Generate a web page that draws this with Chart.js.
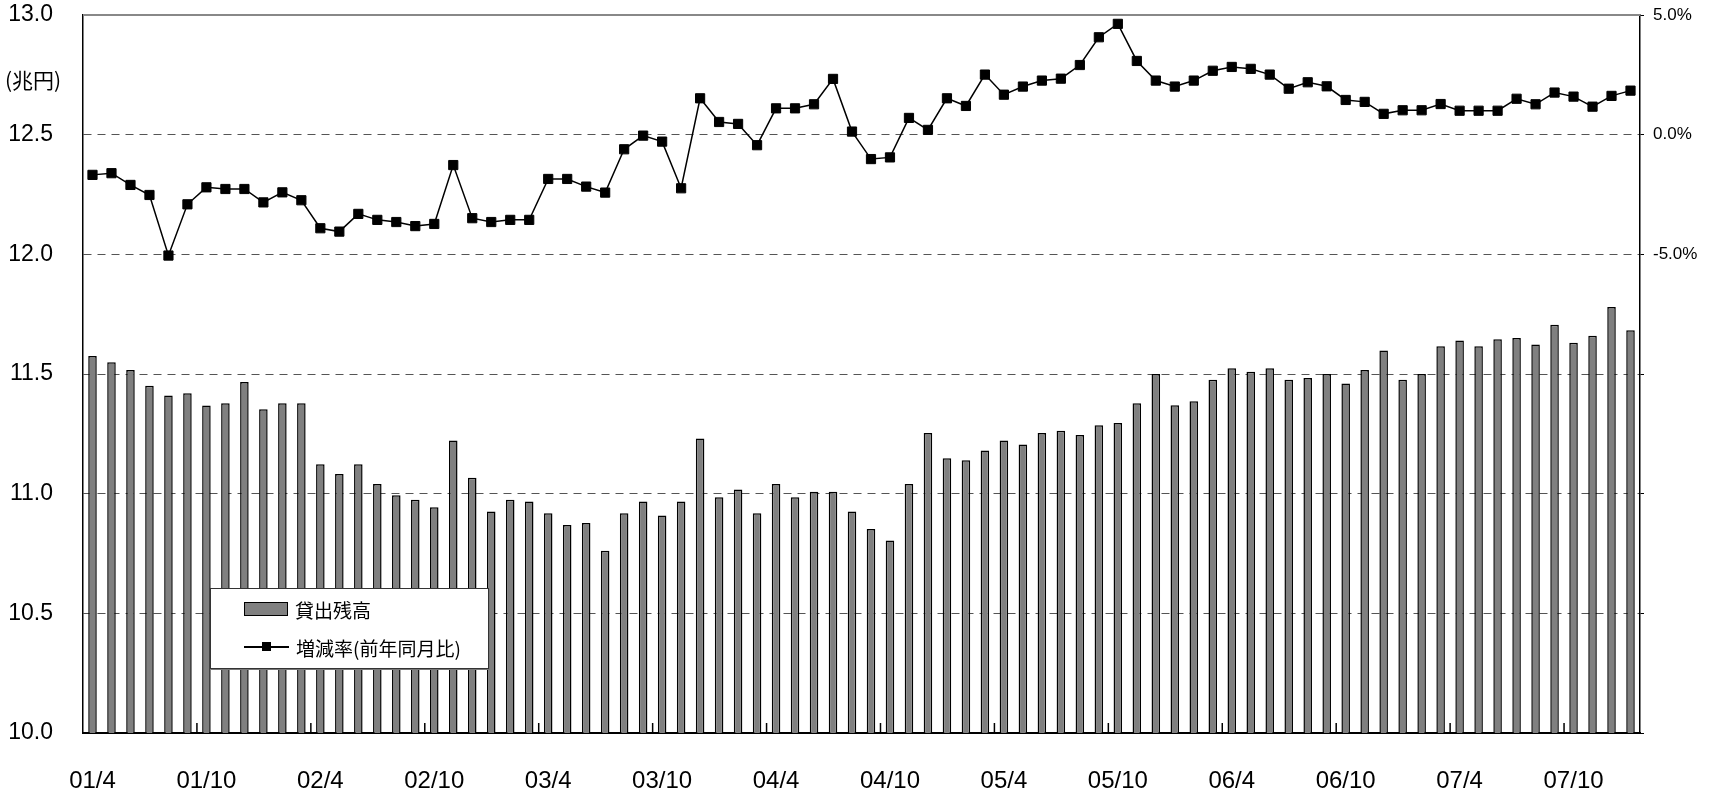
<!DOCTYPE html>
<html>
<head>
<meta charset="utf-8">
<script src="https://cdn.jsdelivr.net/npm/chart.js@4"></script>
<style>
body { margin: 0; background: #fff; }
#wrap { position: relative; width: 1716px; height: 793px; }
#legend {
    position: absolute; left: 210px; top: 588px; width: 277px; height: 79px;
    background: #fff; border: 1px solid #333; box-shadow: 1px 1px 0 #777;
    font-family: "Noto Sans CJK JP", sans-serif; font-size: 19px; color: #000;
}
.row { position: absolute; left: 33px; height: 24px; display: flex; align-items: center; }
.row span { margin-left: 7px; }
</style>
</head>
<body>
<div id="wrap">
    <canvas id="myChart"></canvas>
    <div id="legend"></div>
</div>
<script>
// months 2001/4 - 2008/1
var months = [
    '01/4','01/5','01/6','01/7','01/8','01/9','01/10','01/11','01/12',
    '02/1','02/2','02/3','02/4','02/5','02/6','02/7','02/8','02/9','02/10','02/11','02/12',
    '03/1','03/2','03/3','03/4','03/5','03/6','03/7','03/8','03/9','03/10','03/11','03/12',
    '04/1','04/2','04/3','04/4','04/5','04/6','04/7','04/8','04/9','04/10','04/11','04/12',
    '05/1','05/2','05/3','05/4','05/5','05/6','05/7','05/8','05/9','05/10','05/11','05/12',
    '06/1','06/2','06/3','06/4','06/5','06/6','06/7','06/8','06/9','06/10','06/11','06/12',
    '07/1','07/2','07/3','07/4','07/5','07/6','07/7','07/8','07/9','07/10','07/11','07/12',
    '08/1'
];
// 貸出残高 (兆円)
var balance = [
    11.575, 11.549, 11.517, 11.451, 11.41, 11.42, 11.368, 11.378, 11.467, 11.353,
    11.378, 11.378, 11.123, 11.082, 11.123, 11.04, 10.993, 10.975, 10.943, 11.222,
    11.066, 10.926, 10.975, 10.967, 10.918, 10.869, 10.877, 10.762, 10.918, 10.967,
    10.909, 10.967, 11.23, 10.985, 11.017, 10.918, 11.04, 10.985, 11.008, 11.008,
    10.926, 10.852, 10.804, 11.04, 11.254, 11.148, 11.14, 11.18, 11.222, 11.205,
    11.254, 11.263, 11.245, 11.286, 11.295, 11.378, 11.5, 11.369, 11.386, 11.476,
    11.524, 11.509, 11.524, 11.476, 11.483, 11.5, 11.46, 11.517, 11.598, 11.476,
    11.5, 11.616, 11.64, 11.616, 11.645, 11.65, 11.623, 11.706, 11.631, 11.66,
    11.78, 11.683
];
// 増減率 (前年同月比, %)
var growth = [
    -1.68, -1.61, -2.10, -2.52, -5.05, -2.91, -2.20, -2.27, -2.27, -2.83,
    -2.41, -2.74, -3.91, -4.05, -3.31, -3.56, -3.65, -3.82, -3.73, -1.27,
    -3.49, -3.65, -3.56, -3.56, -1.85, -1.85, -2.17, -2.42, -0.61, -0.04,
    -0.29, -2.24, 1.52, 0.53, 0.45, -0.44, 1.10, 1.10, 1.27, 2.33,
    0.13, -1.02, -0.95, 0.70, 0.20, 1.52, 1.20, 2.51, 1.67, 2.01,
    2.26, 2.34, 2.91, 4.07, 4.63, 3.08, 2.26, 2.01, 2.26, 2.67,
    2.83, 2.75, 2.51, 1.92, 2.19, 2.02, 1.45, 1.37, 0.87, 1.02,
    1.02, 1.28, 1.00, 1.00, 1.00, 1.50, 1.27, 1.76, 1.59, 1.17,
    1.62, 1.84
];
var shownMonths = ['4', '10'];
var unitLabel = '(兆円)';

Chart.defaults.font.family = '"Liberation Sans", Arial, sans-serif';
Chart.defaults.color = '#000';

var extras = {
    id: 'extras',
    afterDraw: function (chart) {
        var ctx = chart.ctx, x = chart.scales.x, a = chart.chartArea;
        ctx.save();
        // top frame line
        ctx.strokeStyle = '#888';
        ctx.lineWidth = 2;
        ctx.beginPath();
        ctx.moveTo(a.left, a.top);
        ctx.lineTo(a.right, a.top);
        ctx.stroke();
        // half-year ticks on the x axis
        ctx.strokeStyle = '#000';
        ctx.lineWidth = 1.5;
        for (var i = 6; i < months.length; i += 6) {
            var px = (x.getPixelForValue(i - 1) + x.getPixelForValue(i)) / 2;
            ctx.beginPath();
            ctx.moveTo(px, a.bottom);
            ctx.lineTo(px, a.bottom - 10);
            ctx.stroke();
        }
        ctx.fillStyle = '#000';
        ctx.font = '21px "Noto Sans CJK JP", sans-serif';
        ctx.textAlign = 'left';
        ctx.textBaseline = 'middle';
        ctx.fillText(unitLabel, 5, 80);
        ctx.restore();
    }
};

function fixSide(w) {
    return function (s) { s.width = w; s.paddingTop = 10; s.paddingBottom = 10; };
}

var ctx = document.getElementById('myChart').getContext('2d');
var myChart = new Chart(ctx, {
    data: {
        labels: months,
        datasets: [{
            type: 'bar',
            label: '貸出残高',
            data: balance,
            yAxisID: 'y',
            backgroundColor: '#808080',
            borderColor: '#000',
            borderWidth: 1.5,
            barPercentage: 0.45,
            categoryPercentage: 1,
            order: 1
        }, {
            type: 'line',
            label: '増減率(前年同月比)',
            data: growth,
            yAxisID: 'y1',
            borderColor: '#000',
            borderWidth: 1.5,
            pointStyle: 'rect',
            pointRadius: 6.5,
            pointBackgroundColor: '#000',
            pointBorderColor: '#000',
            pointBorderWidth: 1,
            tension: 0,
            order: 0
        }]
    },
    options: {
        responsive: true,
        maintainAspectRatio: false,
        animation: false,
        layout: { padding: { top: 15, left: 0, right: 0, bottom: 0 } },
        plugins: { legend: { display: false }, tooltip: { enabled: false } },
        scales: {
            x: {
                type: 'category',
                position: 'bottom',
                offset: true,
                afterFit: function (s) { s.height = 60; s.paddingLeft = 0; s.paddingRight = 0; },
                grid: { display: false },
                border: { color: '#000', width: 2 },
                ticks: {
                    autoSkip: false, maxRotation: 0, padding: 26,
                    font: { size: 24 },
                    callback: function (v, i) {
                        var m = months[i].split('/')[1];
                        return shownMonths.indexOf(m) >= 0 ? months[i] : '';
                    }
                }
            },
            y: {
                position: 'left',
                min: 10, max: 13,
                afterFit: fixSide(83),
                border: { color: '#000', width: 1.5, dash: [8, 6] },
                grid: {
                    drawTicks: false,
                    lineWidth: 1,
                    color: function (c) {
                        var v = c.tick ? c.tick.value : 0;
                        return (v <= 10 || v >= 13) ? 'rgba(0,0,0,0)' : '#555';
                    }
                },
                ticks: {
                    stepSize: 0.5, padding: 30,
                    font: { size: 23 },
                    callback: function (v) { return Number(v).toFixed(1); }
                }
            },
            y1: {
                position: 'right',
                min: -25, max: 5,
                afterFit: fixSide(76),
                border: { color: '#000', width: 1.5 },
                grid: { drawOnChartArea: false, drawTicks: true, tickLength: 4, tickColor: '#000' },
                ticks: {
                    stepSize: 5, padding: 9,
                    font: { size: 17 },
                    callback: function (v) { return v >= -5 ? Number(v).toFixed(1) + '%' : ''; }
                }
            }
        }
    },
    plugins: [extras]
});

// legend built from the datasets
var lg = document.getElementById('legend');
var ds = myChart.data.datasets;
var html = '';
html += '<div class="row" style="top:8px"><div style="width:42px;height:12px;background:' + ds[0].backgroundColor +
    ';border:1.5px solid ' + ds[0].borderColor + '"></div><span>' + ds[0].label + '</span></div>';
html += '<div class="row" style="top:46px"><div style="position:relative;width:45px;height:24px">' +
    '<div style="position:absolute;left:0;top:11px;width:45px;height:1.5px;background:' + ds[1].borderColor + '"></div>' +
    '<div style="position:absolute;left:18px;top:7px;width:9px;height:9px;background:' + ds[1].pointBackgroundColor + '"></div>' +
    '</div><span>' + ds[1].label + '</span></div>';
lg.innerHTML = html;
</script>
</body>
</html>
